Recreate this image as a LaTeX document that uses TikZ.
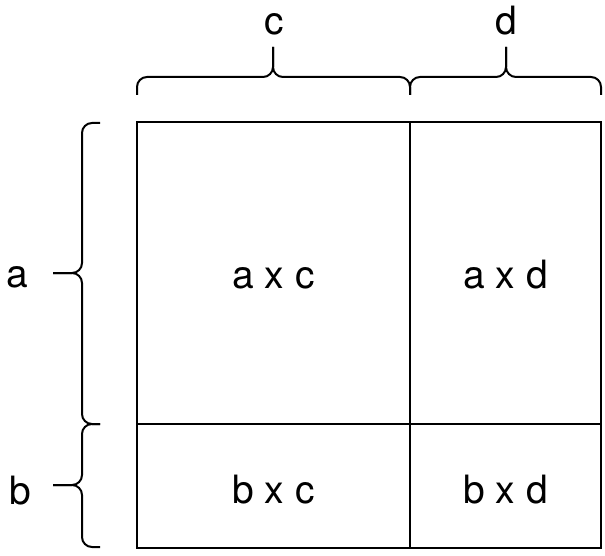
\documentclass[tikz,border=0pt]{standalone}
\usepackage{fontspec}
\setmainfont{TeX Gyre Heros}
\begin{document}
\begin{tikzpicture}[x=1pt,y=-1pt,line width=2pt,
		lbl/.style={anchor=base,font=\fontsize{39}{47}\selectfont},
		brace/.style={rounded corners=10pt}]
		\useasboundingbox (0,0) rectangle (605,556);
		% grid
		\draw (137,122) rectangle (601,548);
		\draw (410,122) -- (410,548)
		(137,424) -- (601,424);
		\node[lbl] (ac) at (273.5,288) {a x c};
		\node[lbl] (ad) at (505.5,288) {a x d};
		\node[lbl] (bc) at (273.5,503) {b x c};
		\node[lbl] (bd) at (505.5,503) {b x d};
		% top braces
		\draw[brace] (137,95) |- (273,77) -- (273,47);
		\draw[brace] (273,47) |- (410,77) -- (410,95);
		\draw[brace] (410,95) |- (506,77) -- (506,47);
		\draw[brace] (506,47) |- (601,77) -- (601,95);
		\node[lbl] (c) at (274.5,35) {c};
		\node[lbl] (d) at (506,35) {d};
		% left braces
		\draw[brace] (100,123) -| (82,273) -- (53,273);
		\draw[brace] (53,273) -| (82,424) -- (100,424);
		\draw[brace] (100,424) -| (82,485) -- (53,485);
		\draw[brace] (53,485) -| (82,547) -- (100,547);
		\node[lbl] (a) at (17,287) {a};
		\node[lbl] (b) at (20,504) {b};
\end{tikzpicture}
\end{document}
